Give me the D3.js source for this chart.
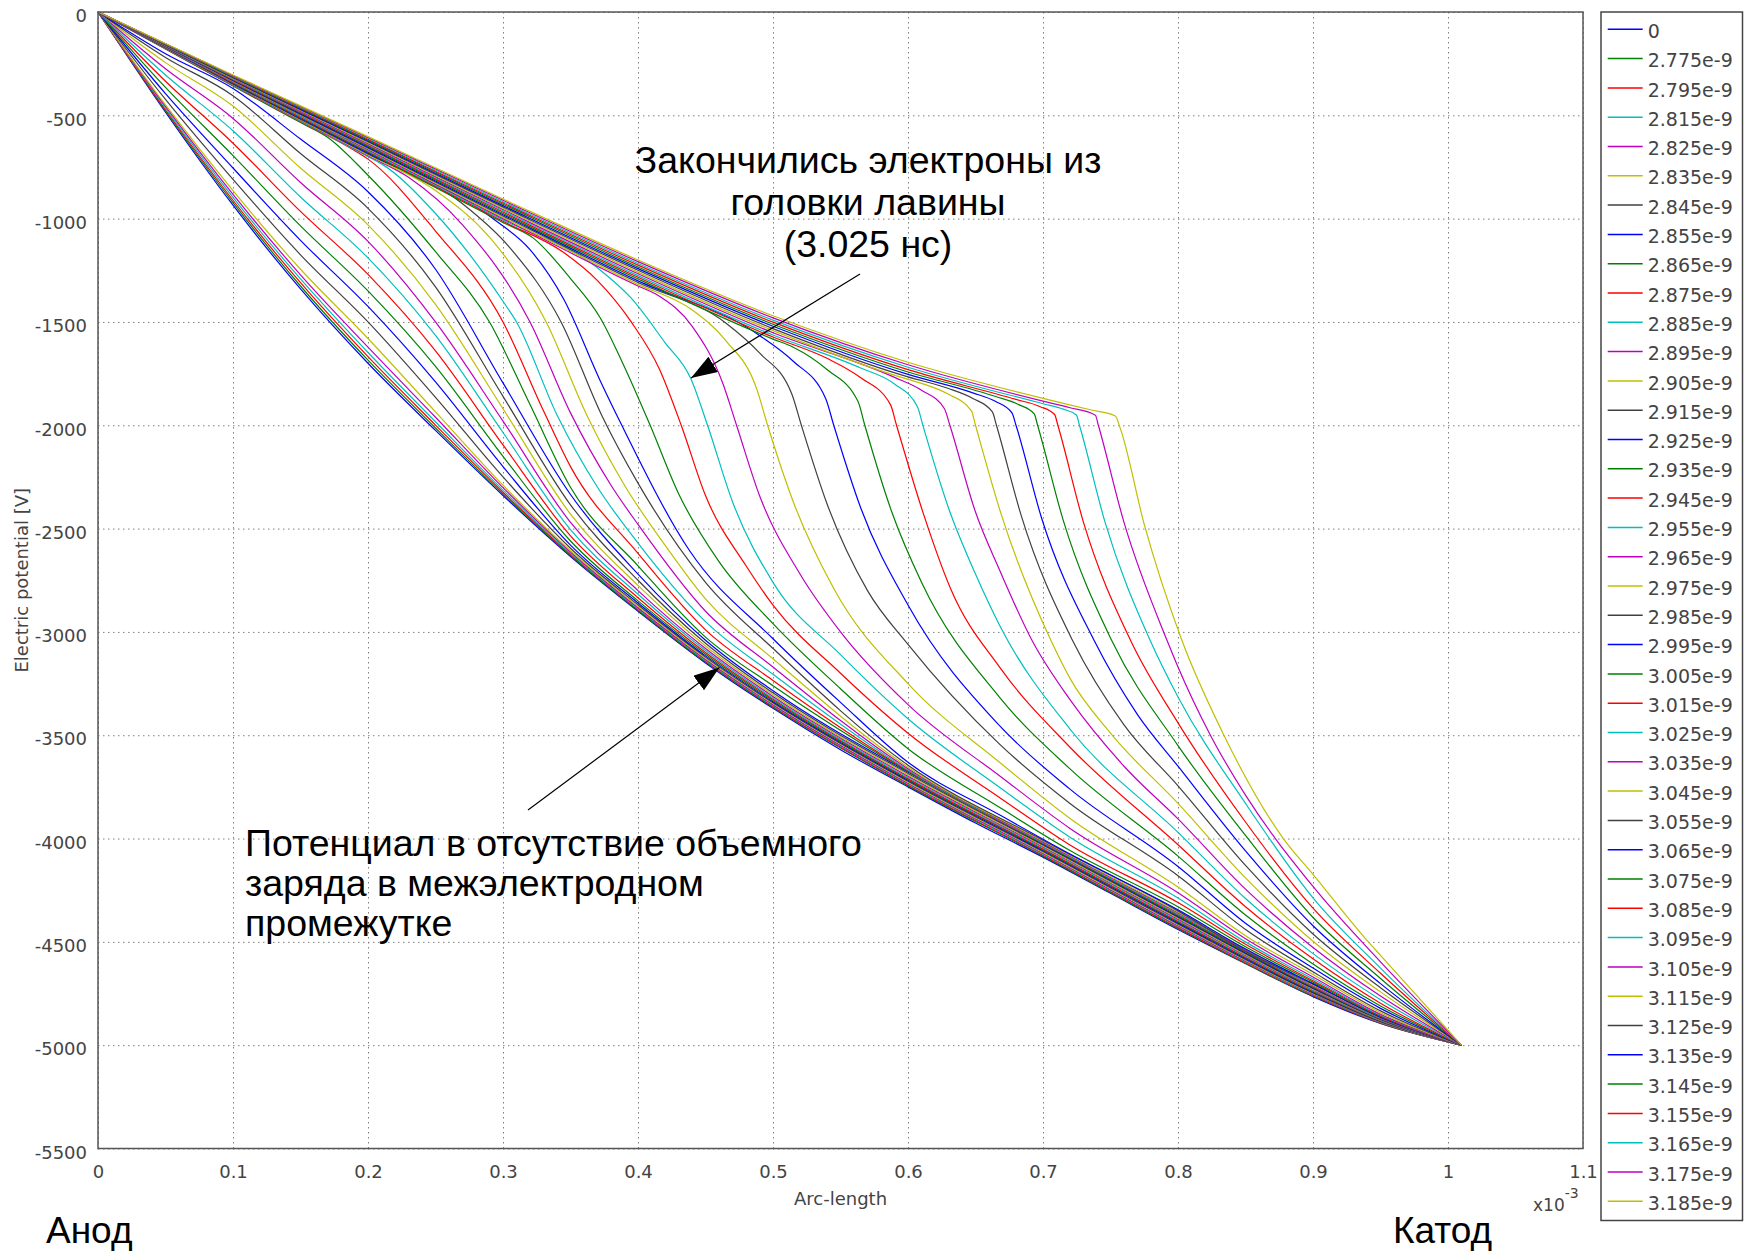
<!DOCTYPE html>
<html>
<head>
<meta charset="utf-8">
<script src="https://cdn.jsdelivr.net/npm/d3@7"></script>
<style>
  body { margin: 0; background: #fff; }
  svg { display: block; }
  .tick text { font-family: 'DejaVu Sans', sans-serif; font-size: 18px; fill: #444; }
  .grid .tick line { stroke: #808080; stroke-width: 1; stroke-dasharray: 1.5,3.5; }
  .axis-label { font-family: 'DejaVu Sans', sans-serif; font-size: 18px; fill: #444; }
  .legend text { font-family: 'DejaVu Sans', sans-serif; font-size: 19px; fill: #444; }
  .note { font-family: 'Liberation Sans', Arial, sans-serif; font-size: 37.5px; fill: #000; }
</style>
</head>
<body>
<svg width="1744" height="1253"></svg>
<script>
// legend labels (time, s) and color cycle
const times = ['0', '2.775e-9', '2.795e-9', '2.815e-9', '2.825e-9', '2.835e-9', '2.845e-9', '2.855e-9',
  '2.865e-9', '2.875e-9', '2.885e-9', '2.895e-9', '2.905e-9', '2.915e-9', '2.925e-9', '2.935e-9',
  '2.945e-9', '2.955e-9', '2.965e-9', '2.975e-9', '2.985e-9', '2.995e-9', '3.005e-9', '3.015e-9',
  '3.025e-9', '3.035e-9', '3.045e-9', '3.055e-9', '3.065e-9', '3.075e-9', '3.085e-9', '3.095e-9',
  '3.105e-9', '3.115e-9', '3.125e-9', '3.135e-9', '3.145e-9', '3.155e-9', '3.165e-9', '3.175e-9', '3.185e-9'];
const palette = ['#0000ff', '#008000', '#ff0000', '#00bfbf', '#bf00bf', '#bfbf00', '#404040'];

const xTicks = [0, 0.1, 0.2, 0.3, 0.4, 0.5, 0.6, 0.7, 0.8, 0.9, 1, 1.1];
const xTickLabels = ['0', '0.1', '0.2', '0.3', '0.4', '0.5', '0.6', '0.7', '0.8', '0.9', '1', '1.1'];
const yTicks = [0, -500, -1000, -1500, -2000, -2500, -3000, -3500, -4000, -4500, -5000, -5500];

// arc-length (x10^-3), potential (V)
const gridX = [0.05, 0.1, 0.15, 0.2, 0.25, 0.3, 0.35, 0.4, 0.45, 0.5, 0.6, 0.7, 0.8, 0.9, 0.95];
const s0 = [[0,0],[0.05,-485],[0.1,-935],[0.15,-1340],[0.2,-1700],[0.25,-2025],[0.3,-2340],[0.35,-2635],[0.4,-2900],[0.45,-3150],[0.5,-3370],[0.55,-3570],[0.6,-3750],[0.65,-3925],[0.7,-4090],[0.75,-4265],[0.8,-4440],[0.85,-4605],[0.9,-4765],[0.95,-4895],[1.01,-5000]];
const v1 = [-479,-923,-1326,-1685,-2013,-2332,-2630,-2896,-3146,-3365,-3745,-4085,-4435,-4762,-4893];
const v2 = [-473,-911,-1310,-1668,-1999,-2324,-2625,-2892,-3142,-3361,-3741,-4081,-4431,-4759,-4892];
const v3 = [-465,-897,-1292,-1648,-1983,-2314,-2619,-2888,-3138,-3356,-3736,-4076,-4426,-4756,-4890];
const v4 = [-457,-883,-1272,-1622,-1961,-2302,-2613,-2883,-3133,-3352,-3732,-4072,-4422,-4753,-4889];
const v5 = [-450,-865,-1245,-1580,-1935,-2290,-2607,-2876,-3128,-3347,-3727,-4067,-4417,-4750,-4887];
const v6 = [-423,-810,-1175,-1500,-1865,-2250,-2595,-2869,-3122,-3343,-3723,-4063,-4413,-4747,-4886];
const v7 = [-395,-755,-1105,-1425,-1790,-2200,-2580,-2860,-3116,-3338,-3718,-4058,-4408,-4744,-4884];
const v8 = [-365,-695,-1035,-1350,-1715,-2150,-2560,-2850,-3108,-3332,-3714,-4054,-4404,-4741,-4883];
const v9 = [-335,-635,-965,-1270,-1640,-2095,-2535,-2835,-3100,-3326,-3710,-4050,-4400,-4738,-4881];
const v10 = [-305,-575,-895,-1190,-1565,-2035,-2505,-2818,-3090,-3320,-3705,-4045,-4395,-4735,-4880];
const v11 = [-275,-515,-825,-1110,-1500,-1980,-2470,-2800,-3080,-3312,-3698,-4040,-4390,-4732,-4878];
const v12 = [-245,-455,-755,-1030,-1415,-1920,-2430,-2775,-3068,-3304,-3692,-4036,-4386,-4729,-4877];
const v13 = [-220,-405,-685,-950,-1330,-1860,-2385,-2750,-3055,-3295,-3685,-4031,-4381,-4726,-4875];
const v14 = [-202,-370,-615,-870,-1245,-1795,-2335,-2720,-3040,-3285,-3678,-4027,-4377,-4723,-4874];
const s15 = [[0,0],[0.05,-179],[0.1,-358],[0.15,-535],[0.17,-606],[0.2,-790],[0.25,-1160],[0.29,-1500],[0.32,-1900],[0.35,-2300],[0.4,-2680],[0.45,-3025],[0.5,-3260],[0.6,-3675],[0.7,-4025],[0.8,-4373],[0.9,-4720],[0.95,-4873],[1.01,-5000]];
const s16 = [[0,0],[0.05,-178],[0.1,-356],[0.15,-531],[0.19,-670],[0.2,-712],[0.25,-1060],[0.3,-1500],[0.33,-1930],[0.35,-2200],[0.4,-2620],[0.45,-2990],[0.5,-3235],[0.6,-3672],[0.7,-4023],[0.8,-4368],[0.9,-4717],[0.95,-4871],[1.01,-5000]];
const s17 = [[0,0],[0.05,-176],[0.1,-354],[0.15,-528],[0.2,-700],[0.21,-735],[0.25,-975],[0.3,-1400],[0.31,-1500],[0.34,-1950],[0.37,-2300],[0.4,-2570],[0.45,-2950],[0.5,-3205],[0.6,-3668],[0.7,-4020],[0.8,-4364],[0.9,-4714],[0.95,-4870],[1.01,-5000]];
const s18 = [[0,0],[0.05,-175],[0.1,-352],[0.15,-525],[0.2,-696],[0.23,-800],[0.27,-1030],[0.32,-1500],[0.35,-1940],[0.38,-2290],[0.4,-2480],[0.45,-2900],[0.5,-3170],[0.6,-3662],[0.7,-4016],[0.8,-4359],[0.9,-4711],[0.95,-4868],[1.01,-5000]];
const s19 = [[0,0],[0.05,-174],[0.1,-350],[0.15,-522],[0.2,-692],[0.25,-864],[0.29,-1090],[0.332,-1500],[0.362,-1950],[0.39,-2290],[0.42,-2580],[0.45,-2840],[0.5,-3130],[0.6,-3655],[0.7,-4012],[0.8,-4355],[0.9,-4708],[0.95,-4866],[1.01,-5000]];
const s20 = [[0,0],[0.05,-173],[0.1,-348],[0.15,-519],[0.2,-687],[0.27,-928],[0.305,-1140],[0.343,-1500],[0.373,-1950],[0.4,-2280],[0.45,-2760],[0.5,-3080],[0.6,-3645],[0.7,-4008],[0.8,-4350],[0.85,-4545],[0.9,-4705],[0.95,-4865],[1.01,-5000]];
const s21 = [[0,0],[0.1,-346],[0.2,-683],[0.293,-1002],[0.32,-1150],[0.345,-1390],[0.372,-1784],[0.388,-2000],[0.438,-2605],[0.5,-3033],[0.55,-3341],[0.6,-3631],[0.668,-3886],[0.72,-4075],[0.8,-4345],[0.85,-4535],[0.9,-4702],[0.95,-4864],[1.01,-5000]];
const s22 = [[0,0],[0.1,-344],[0.2,-679],[0.3,-1019],[0.322,-1092],[0.35,-1290],[0.372,-1480],[0.388,-1690],[0.409,-2000],[0.43,-2330],[0.46,-2660],[0.5,-2960],[0.55,-3275],[0.6,-3565],[0.668,-3850],[0.72,-4058],[0.8,-4330],[0.85,-4524],[0.9,-4695],[0.95,-4861],[1.01,-5000]];
const s23 = [[0,0],[0.1,-341],[0.2,-675],[0.3,-1013],[0.345,-1164],[0.37,-1300],[0.395,-1500],[0.416,-1730],[0.432,-2000],[0.45,-2340],[0.48,-2680],[0.5,-2870],[0.55,-3200],[0.6,-3490],[0.668,-3802],[0.72,-4031],[0.8,-4310],[0.85,-4512],[0.9,-4688],[0.95,-4858],[1.01,-5000]];
const s24 = [[0,0],[0.1,-339],[0.2,-671],[0.3,-1006],[0.37,-1238],[0.395,-1385],[0.42,-1600],[0.439,-1773],[0.4515,-2000],[0.47,-2370],[0.5,-2760],[0.55,-3110],[0.6,-3420],[0.668,-3753],[0.72,-3994],[0.8,-4288],[0.85,-4500],[0.9,-4680],[0.95,-4854],[1.01,-5000]];
const s25 = [[0,0],[0.1,-337],[0.2,-666],[0.3,-1000],[0.4,-1326],[0.415,-1372],[0.44,-1520],[0.463,-1800],[0.473,-2000],[0.49,-2340],[0.52,-2720],[0.55,-3000],[0.6,-3352],[0.668,-3697],[0.72,-3951],[0.8,-4262],[0.85,-4485],[0.9,-4670],[0.95,-4850],[1.01,-5000]];
const s26 = [[0,0],[0.1,-335],[0.2,-662],[0.3,-994],[0.4,-1318],[0.44,-1441],[0.465,-1590],[0.488,-1825],[0.496,-2000],[0.515,-2370],[0.545,-2790],[0.6,-3250],[0.668,-3632],[0.72,-3903],[0.8,-4235],[0.85,-4470],[0.9,-4658],[0.95,-4843],[1.01,-5000]];
const s27 = [[0,0],[0.1,-333],[0.2,-658],[0.3,-987],[0.4,-1309],[0.465,-1505],[0.49,-1650],[0.514,-1850],[0.521,-2000],[0.54,-2380],[0.57,-2800],[0.6,-3060],[0.668,-3544],[0.72,-3830],[0.8,-4180],[0.85,-4440],[0.9,-4645],[0.95,-4834],[1.01,-5000]];
const s28 = [[0,0],[0.1,-330],[0.2,-654],[0.3,-981],[0.4,-1301],[0.49,-1565],[0.515,-1690],[0.539,-1870],[0.545,-2000],[0.565,-2400],[0.6,-2870],[0.668,-3455],[0.72,-3761],[0.8,-4135],[0.85,-4410],[0.9,-4627],[0.95,-4822],[1.01,-5000]];
const s29 = [[0,0],[0.1,-328],[0.2,-649],[0.3,-975],[0.4,-1292],[0.5,-1583],[0.515,-1622],[0.54,-1730],[0.563,-1885],[0.568,-2000],[0.588,-2420],[0.61,-2760],[0.668,-3318],[0.72,-3663],[0.8,-4085],[0.85,-4370],[0.9,-4607],[0.95,-4810],[1.01,-5000]];
const s30 = [[0,0],[0.1,-326],[0.2,-645],[0.3,-968],[0.4,-1284],[0.5,-1573],[0.54,-1676],[0.565,-1770],[0.587,-1900],[0.5915,-2000],[0.6115,-2430],[0.6315,-2790],[0.668,-3172],[0.72,-3558],[0.8,-4030],[0.85,-4330],[0.9,-4582],[0.95,-4797],[1.01,-5000]];
const s31 = [[0,0],[0.1,-324],[0.2,-641],[0.3,-962],[0.4,-1276],[0.5,-1563],[0.565,-1723],[0.59,-1800],[0.607,-1910],[0.611,-2000],[0.63,-2400],[0.65,-2720],[0.668,-2970],[0.72,-3470],[0.8,-3970],[0.85,-4290],[0.9,-4557],[0.95,-4780],[1.01,-5000]];
const s32 = [[0,0],[0.1,-322],[0.2,-637],[0.3,-956],[0.4,-1267],[0.5,-1552],[0.59,-1768],[0.61,-1830],[0.627,-1920],[0.631,-2000],[0.65,-2420],[0.668,-2703],[0.692,-3043],[0.72,-3328],[0.76,-3650],[0.8,-3905],[0.85,-4245],[0.9,-4527],[0.95,-4762],[1.01,-5000]];
const s33 = [[0,0],[0.1,-320],[0.2,-633],[0.3,-949],[0.4,-1259],[0.5,-1542],[0.6,-1778],[0.61,-1797],[0.63,-1850],[0.647,-1930],[0.65,-2000],[0.669,-2430],[0.706,-3043],[0.72,-3225],[0.75,-3490],[0.8,-3830],[0.85,-4190],[0.9,-4497],[0.95,-4742],[1.01,-5000]];
const s34 = [[0,0],[0.1,-318],[0.2,-628],[0.3,-943],[0.4,-1250],[0.5,-1532],[0.6,-1766],[0.63,-1822],[0.648,-1870],[0.6625,-1935],[0.6655,-2000],[0.684,-2440],[0.722,-3043],[0.76,-3450],[0.8,-3745],[0.85,-4130],[0.9,-4462],[0.95,-4722],[1.01,-5000]];
const s35 = [[0,0],[0.1,-316],[0.2,-624],[0.3,-937],[0.4,-1242],[0.5,-1521],[0.6,-1754],[0.648,-1843],[0.665,-1885],[0.677,-1940],[0.68,-2000],[0.699,-2450],[0.738,-3043],[0.77,-3400],[0.8,-3650],[0.85,-4060],[0.9,-4422],[0.95,-4702],[1.01,-5000]];
const s36 = [[0,0],[0.1,-314],[0.2,-620],[0.3,-930],[0.4,-1234],[0.5,-1511],[0.6,-1742],[0.665,-1861],[0.682,-1900],[0.6935,-1945],[0.696,-2000],[0.715,-2460],[0.751,-3043],[0.8,-3550],[0.85,-3985],[0.9,-4382],[0.95,-4677],[1.01,-5000]];
const s37 = [[0,0],[0.1,-311],[0.2,-616],[0.3,-924],[0.4,-1225],[0.5,-1501],[0.6,-1731],[0.68,-1875],[0.698,-1910],[0.7086,-1948],[0.711,-2000],[0.73,-2470],[0.765,-3043],[0.8,-3440],[0.85,-3920],[0.9,-4337],[0.95,-4652],[1.01,-5000]];
const s38 = [[0,0],[0.1,-309],[0.2,-611],[0.3,-918],[0.4,-1217],[0.5,-1491],[0.6,-1719],[0.7,-1896],[0.715,-1922],[0.7247,-1950],[0.727,-2000],[0.746,-2470],[0.7795,-3043],[0.8,-3315],[0.85,-3830],[0.9,-4287],[0.95,-4627],[1.01,-5000]];
const s39 = [[0,0],[0.1,-307],[0.2,-607],[0.3,-911],[0.4,-1208],[0.5,-1480],[0.6,-1707],[0.7,-1883],[0.72,-1915],[0.7388,-1951],[0.741,-2000],[0.76,-2470],[0.792,-3043],[0.8,-3170],[0.824,-3500],[0.85,-3790],[0.9,-4232],[0.95,-4597],[1.01,-5000]];
const s40 = [[0,0],[0.1,-305],[0.2,-603],[0.3,-905],[0.4,-1200],[0.5,-1470],[0.6,-1695],[0.7,-1870],[0.735,-1925],[0.7536,-1955],[0.757,-2010],[0.775,-2480],[0.803,-3043],[0.834,-3500],[0.878,-4000],[0.9,-4173],[0.941,-4500],[0.95,-4565],[1.01,-5000]];

// early curves share the x positions of gridX
const onGrid = v => [[0, 0], ...gridX.map((x, i) => [x, v[i]]), [1.01, -5000]];
const series = [s0, onGrid(v1), onGrid(v2), onGrid(v3), onGrid(v4), onGrid(v5), onGrid(v6), onGrid(v7),
  onGrid(v8), onGrid(v9), onGrid(v10), onGrid(v11), onGrid(v12), onGrid(v13), onGrid(v14),
  s15, s16, s17, s18, s19, s20, s21, s22, s23, s24, s25, s26, s27, s28, s29, s30,
  s31, s32, s33, s34, s35, s36, s37, s38, s39, s40];

const svg = d3.select('svg');
const margin = { top: 12, left: 98 };
const innerWidth = 1485;
const innerHeight = 1136.5;

const xScale = d3.scaleLinear().domain([0, 1.1]).range([0, innerWidth]);
const yScale = d3.scaleLinear().domain([-5500, 0]).range([innerHeight, 0]);

const g = svg.append('g')
  .attr('transform', `translate(${margin.left}, ${margin.top})`);

// grid + tick labels
const xAxis = d3.axisBottom(xScale)
  .tickValues(xTicks)
  .tickFormat((d, i) => xTickLabels[i])
  .tickSize(-innerHeight)
  .tickPadding(17);
const xAxisGroup = g.append('g').attr('class', 'grid')
  .attr('transform', `translate(0, ${innerHeight})`)
  .call(xAxis);
xAxisGroup.select('.domain').remove();

const yAxis = d3.axisLeft(yScale)
  .tickValues(yTicks)
  .tickFormat(d => String(d))   // plain hyphen like the original
  .tickSize(-innerWidth)
  .tickPadding(11);
const yAxisGroup = g.append('g').attr('class', 'grid').call(yAxis);
yAxisGroup.select('.domain').remove();
yAxisGroup.selectAll('.tick text').attr('y', 4);

// curves
const line = d3.line()
  .x(d => xScale(d[0]))
  .y(d => yScale(d[1]))
  .curve(d3.curveMonotoneX);

g.append('g').selectAll('path')
  .data(series)
  .join('path')
  .attr('d', line)
  .attr('fill', 'none')
  .attr('stroke', (d, i) => palette[i % palette.length])
  .attr('stroke-width', 1.2)
  .attr('stroke-linejoin', 'round');

// frame
g.append('rect')
  .attr('width', innerWidth)
  .attr('height', innerHeight)
  .attr('fill', 'none')
  .attr('stroke', '#555')
  .attr('stroke-width', 1.5);

// axis labels
svg.append('text')
  .attr('class', 'axis-label')
  .attr('transform', `translate(28, ${margin.top + innerHeight / 2}) rotate(-90)`)
  .style('text-anchor', 'middle')
  .text('Electric potential [V]');

svg.append('text')
  .attr('class', 'axis-label')
  .attr('x', margin.left + innerWidth / 2)
  .attr('y', 1205)
  .style('text-anchor', 'middle')
  .text('Arc-length');

const mult = svg.append('text')
  .attr('class', 'axis-label')
  .attr('x', 1533)
  .attr('y', 1211)
  .style('font-size', '17px');
mult.append('tspan').text('x10');
mult.append('tspan').attr('dy', -13).style('font-size', '14px').text('-3');

// legend
const legend = svg.append('g').attr('class', 'legend')
  .attr('transform', 'translate(1601, 12)');
legend.append('rect')
  .attr('width', 141.5)
  .attr('height', 1208.5)
  .attr('fill', '#fff')
  .attr('stroke', '#444')
  .attr('stroke-width', 1.5);
const items = legend.selectAll('g.item')
  .data(times)
  .join('g')
  .attr('class', 'item')
  .attr('transform', (d, i) => `translate(0, ${17.3 + i * 29.3})`);
items.append('line')
  .attr('x1', 6.7).attr('x2', 41.7)
  .attr('stroke', (d, i) => palette[i % palette.length])
  .attr('stroke-width', 1.5);
items.append('text')
  .attr('x', 46.7)
  .attr('y', 2)
  .attr('dy', '0.35em')
  .text(d => d);

// annotations
const defs = svg.append('defs');
defs.append('marker')
  .attr('id', 'head')
  .attr('viewBox', '0 0 26 18')
  .attr('refX', 26).attr('refY', 9)
  .attr('markerWidth', 26).attr('markerHeight', 18)
  .attr('markerUnits', 'userSpaceOnUse')
  .attr('orient', 'auto')
  .append('path')
  .attr('d', 'M0,0 L26,9 L0,18 Z')
  .attr('fill', '#000');

svg.append('line')
  .attr('x1', 860).attr('y1', 274)
  .attr('x2', 691).attr('y2', 378)
  .attr('stroke', '#000').attr('stroke-width', 1.2)
  .attr('marker-end', 'url(#head)');

svg.append('line')
  .attr('x1', 528).attr('y1', 810)
  .attr('x2', 719.5).attr('y2', 667.5)
  .attr('stroke', '#000').attr('stroke-width', 1.2)
  .attr('marker-end', 'url(#head)');

const note1 = ['Закончились электроны из', 'головки лавины', '(3.025 нс)'];
svg.append('text').attr('class', 'note')
  .style('text-anchor', 'middle')
  .selectAll('tspan')
  .data(note1)
  .join('tspan')
  .attr('x', 868)
  .attr('y', (d, i) => 173 + i * 42)
  .text(d => d);

const note2 = ['Потенциал в отсутствие объемного', 'заряда в межэлектродном', 'промежутке'];
svg.append('text').attr('class', 'note')
  .selectAll('tspan')
  .data(note2)
  .join('tspan')
  .attr('x', 245)
  .attr('y', (d, i) => 856 + i * 40)
  .text(d => d);

svg.append('text').attr('class', 'note')
  .attr('x', 46).attr('y', 1243)
  .style('font-size', '37px')
  .text('Анод');
svg.append('text').attr('class', 'note')
  .attr('x', 1393).attr('y', 1243)
  .style('font-size', '37px')
  .text('Катод');
</script>
</body>
</html>
